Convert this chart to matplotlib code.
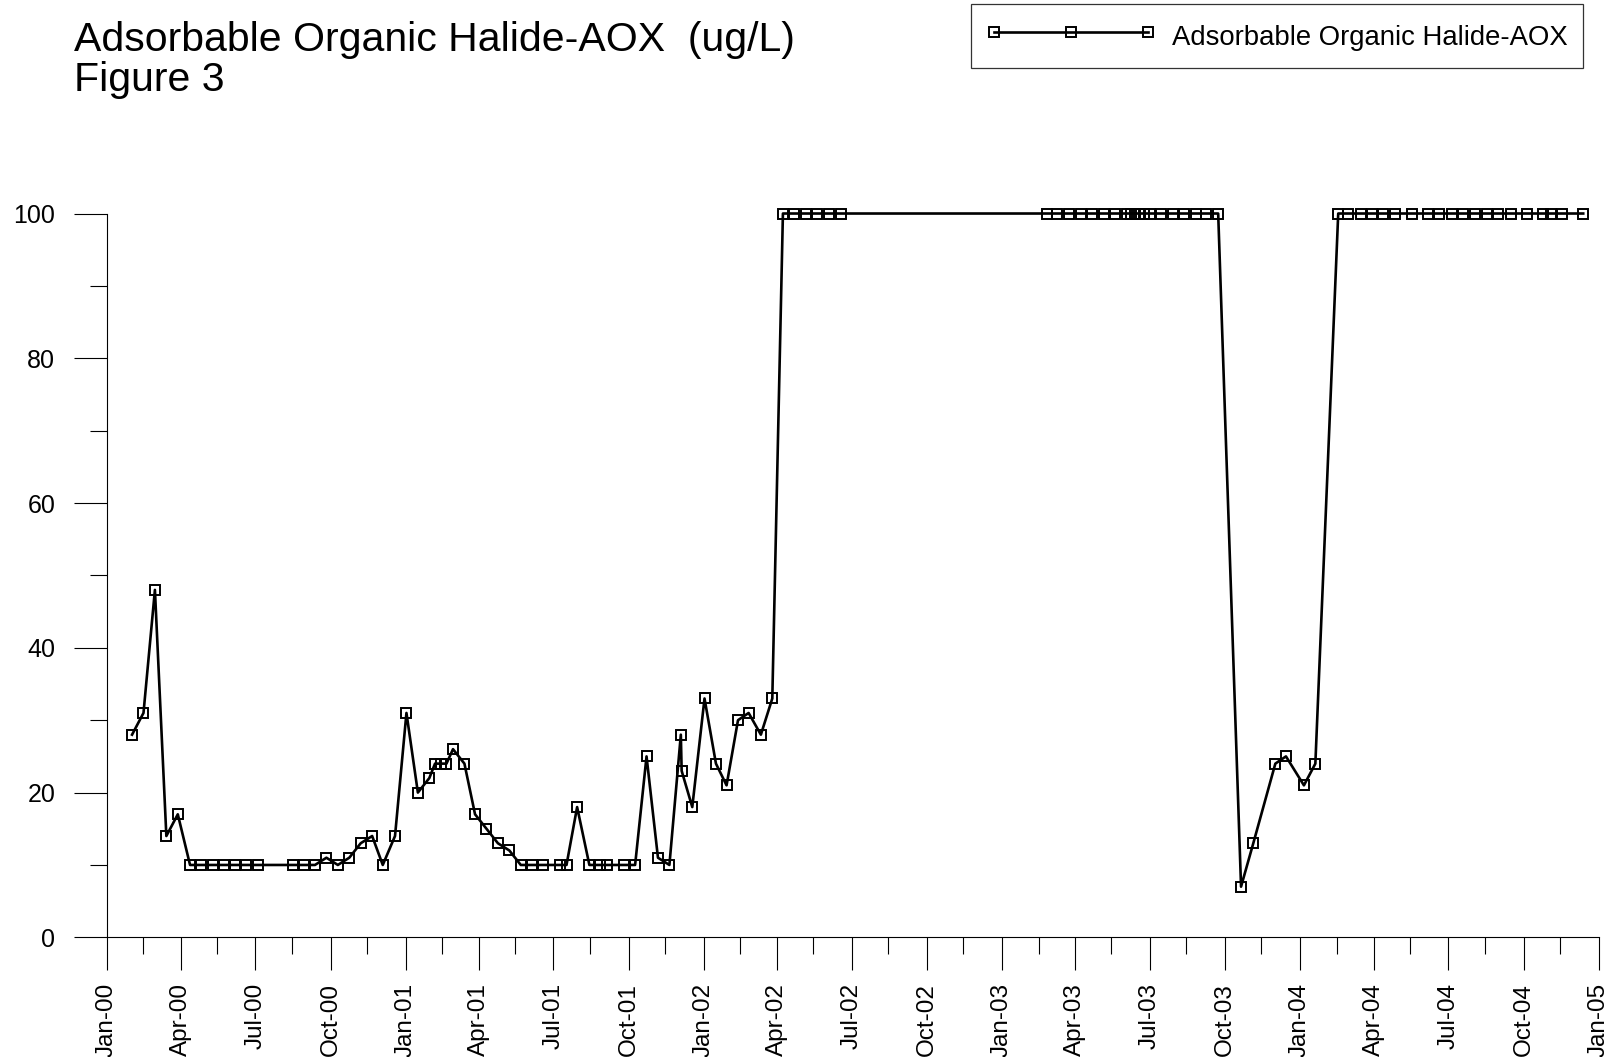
import matplotlib
matplotlib.use("Agg")
import matplotlib.pyplot as plt
import matplotlib.dates as mdates
import pandas as pd

plt.rcParams['font.family'] = ['Liberation Sans', 'DejaVu Sans']

sample_dates = [
    "2000-02-01", "2000-02-15", "2000-02-29", "2000-03-14", "2000-03-28",
    "2000-04-12", "2000-04-26", "2000-05-10", "2000-05-24", "2000-06-06",
    "2000-06-20", "2000-07-04", "2000-08-16", "2000-08-29", "2000-09-12",
    "2000-09-26", "2000-10-10", "2000-10-24", "2000-11-07", "2000-11-21",
    "2000-12-04", "2000-12-19",
    "2001-01-02", "2001-01-16", "2001-01-30", "2001-02-06", "2001-02-13",
    "2001-02-20", "2001-02-28", "2001-03-14", "2001-03-27", "2001-04-10",
    "2001-04-24", "2001-05-08", "2001-05-22", "2001-06-05", "2001-06-18",
    "2001-07-09", "2001-07-17", "2001-07-30", "2001-08-14", "2001-08-27",
    "2001-09-04", "2001-09-25", "2001-10-09", "2001-10-23", "2001-11-06",
    "2001-11-20", "2001-12-04", "2001-12-05", "2001-12-18",
    "2002-01-02", "2002-01-16", "2002-01-29", "2002-02-12", "2002-02-25",
    "2002-03-12", "2002-03-26", "2002-04-08", "2002-04-22", "2002-05-06",
    "2002-05-20", "2002-06-03", "2002-06-18",
    "2003-02-25", "2003-03-10", "2003-03-24", "2003-04-08", "2003-04-22",
    "2003-05-06", "2003-05-20", "2003-06-03", "2003-06-08", "2003-06-13",
    "2003-06-18", "2003-06-24", "2003-07-02", "2003-07-15", "2003-07-30",
    "2003-08-12", "2003-08-27", "2003-09-08", "2003-09-23", "2003-10-21",
    "2003-11-05", "2003-12-02", "2003-12-15",
    "2004-01-06", "2004-01-20", "2004-02-17", "2004-02-29", "2004-03-16",
    "2004-03-29", "2004-04-12", "2004-04-27", "2004-05-17", "2004-06-06",
    "2004-06-20", "2004-07-05", "2004-07-19", "2004-08-03", "2004-08-17",
    "2004-08-31", "2004-09-15", "2004-10-05", "2004-10-25", "2004-11-04",
    "2004-11-17", "2004-12-13",
]
aox_values = [
    28, 31, 48, 14, 17,
    10, 10, 10, 10, 10,
    10, 10, 10, 10, 10,
    11, 10, 11, 13, 14,
    10, 14,
    31, 20, 22, 24, 24,
    24, 26, 24, 17, 15,
    13, 12, 10, 10, 10,
    10, 10, 18, 10, 10,
    10, 10, 10, 25, 11,
    10, 28, 23, 18,
    33, 24, 21, 30, 31,
    28, 33, 100, 100, 100,
    100, 100, 100,
    100, 100, 100, 100, 100,
    100, 100, 100, 100, 100,
    100, 100, 100, 100, 100,
    100, 100, 100, 100, 7,
    13, 24, 25,
    21, 24, 100, 100, 100,
    100, 100, 100, 100, 100,
    100, 100, 100, 100, 100,
    100, 100, 100, 100, 100,
    100, 100,
]

title_lines = ["Adsorbable Organic Halide-AOX  (ug/L)", "Figure 3"]
series_name = "Adsorbable Organic Halide-AOX"

dates = pd.to_datetime(sample_dates)

fig = plt.figure(figsize=(16.1, 10.57), dpi=100)
ax = fig.add_axes([0.0663, 0.1132, 0.9267, 0.6848])

ax.plot(dates, aox_values, color='black', lw=1.9, marker='s', ms=6.5,
        mfc='none', mec='black', mew=1.4, label=series_name, clip_on=False)

ax.set_xlim(pd.Timestamp("2000-01-01"), pd.Timestamp("2005-01-01"))
ax.set_ylim(0, 100)

ax.xaxis.set_major_locator(mdates.MonthLocator(bymonth=[1, 4, 7, 10]))
ax.xaxis.set_major_formatter(mdates.DateFormatter('%b-%y'))
ax.xaxis.set_minor_locator(mdates.MonthLocator(bymonth=[2, 5, 8, 11], bymonthday=15))
ax.set_yticks(range(0, 101, 20))
ax.set_yticks(range(0, 101, 10), minor=True)

ax.tick_params(axis='both', which='major', direction='out', length=24, width=0.8,
               color='black')
ax.tick_params(axis='both', which='minor', direction='out', length=12, width=0.8,
               color='black')
ax.tick_params(axis='x', which='major', pad=9, labelsize=17.5)
ax.tick_params(axis='y', which='major', pad=13, labelsize=18)
plt.setp(ax.get_xticklabels(), rotation=90)

for side in ['top', 'right']:
    ax.spines[side].set_visible(False)
for side in ['left', 'bottom']:
    ax.spines[side].set_linewidth(0.8)

fig.text(0.046, 0.952, title_lines[0], fontsize=29.5, va='baseline', ha='left')
fig.text(0.046, 0.914, title_lines[1], fontsize=29.5, va='baseline', ha='left')

leg = fig.legend(loc='upper left', bbox_to_anchor=(971 / 1610, 1 - 4 / 1057),
                 fontsize=19.8, numpoints=3, handlelength=6.2, handletextpad=0.55,
                 handleheight=1.5, borderpad=0.55, frameon=True, fancybox=False,
                 borderaxespad=0)
leg.get_frame().set_edgecolor('black')
leg.get_frame().set_linewidth(0.9)

fig.savefig("out.png", dpi=100)
